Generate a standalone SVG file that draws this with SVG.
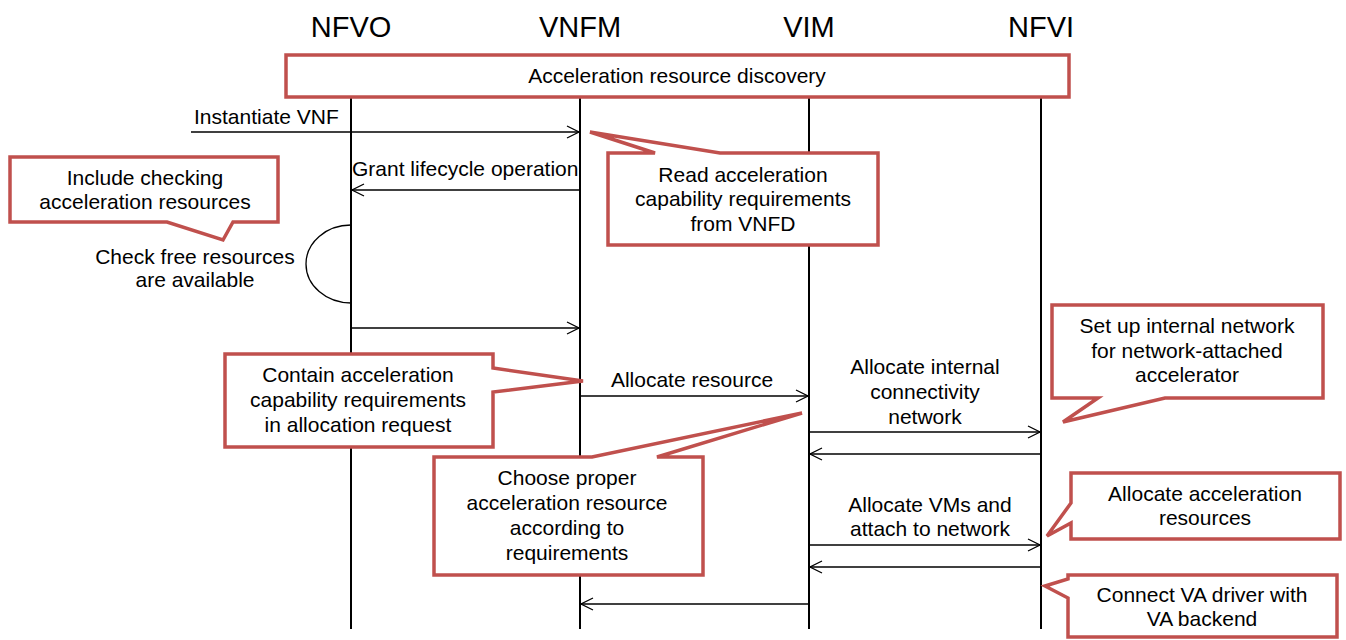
<svg xmlns="http://www.w3.org/2000/svg" width="1346" height="640" viewBox="0 0 1346 640">
<defs>
<style>
text{font-family:"Liberation Sans",Arial,sans-serif;font-size:21px;fill:#000}
.hdr{font-size:29px;text-anchor:middle}
.c{text-anchor:middle}
.life{stroke:#000;stroke-width:2;fill:none}
.msg{stroke:#000;stroke-width:1.3;fill:none;marker-end:url(#arr)}
.call{fill:#fff;stroke:#C0504D;stroke-width:3.5;stroke-linejoin:miter}
</style>
<marker id="arr" viewBox="0 0 14 14" refX="13" refY="7" markerWidth="14" markerHeight="14" markerUnits="userSpaceOnUse" orient="auto">
<path d="M1,1 L13,7 L1,13" fill="none" stroke="#000" stroke-width="1.3"/>
</marker>
</defs>
<rect width="1346" height="640" fill="#fff"/>

<g id="lifelines">
<g id="nfvo"><text class="hdr" x="351" y="37">NFVO</text><line class="life" x1="351" y1="97" x2="351" y2="629"/></g>
<g id="vnfm"><text class="hdr" x="580" y="37">VNFM</text><line class="life" x1="580" y1="97" x2="580" y2="629"/></g>
<g id="vim"><text class="hdr" x="809" y="37">VIM</text><line class="life" x1="809" y1="97" x2="809" y2="629"/></g>
<g id="nfvi"><text class="hdr" x="1041" y="37">NFVI</text><line class="life" x1="1041" y1="97" x2="1041" y2="629"/></g>
</g>

<g id="discovery">
<rect class="call" x="286" y="55" width="783" height="42"/>
<text class="c" x="677" y="83">Acceleration resource discovery</text>
</g>

<g id="connectors">
<line class="msg" x1="191" y1="132" x2="579" y2="132"/>
<text x="194" y="124">Instantiate VNF</text>
<line class="msg" x1="580" y1="190" x2="352" y2="190"/>
<text x="352" y="176">Grant lifecycle operation</text>
<path d="M351,225 A45,39 0 0 0 351,303" fill="none" stroke="#000" stroke-width="1.3"/>
<line class="msg" x1="351" y1="328" x2="579" y2="328"/>
<line class="msg" x1="580" y1="396" x2="808" y2="396"/>
<text class="c" x="692" y="387">Allocate resource</text>
<line class="msg" x1="809" y1="432" x2="1040" y2="432"/>
<line class="msg" x1="1041" y1="454" x2="810" y2="454"/>
<line class="msg" x1="809" y1="545" x2="1040" y2="545"/>
<line class="msg" x1="1041" y1="567" x2="810" y2="567"/>
<line class="msg" x1="809" y1="604" x2="581" y2="604"/>
<text class="c" x="925" y="374">Allocate internal</text>
<text class="c" x="925" y="399">connectivity</text>
<text class="c" x="925" y="424">network</text>
<text class="c" x="930" y="512">Allocate VMs and</text>
<text class="c" x="930" y="536">attach to network</text>
</g>

<g id="check-free">
<text class="c" x="195" y="264">Check free resources</text>
<text class="c" x="195" y="287">are available</text>
</g>

<g id="note-include">
<path class="call" d="M10,157 H278 V222 H233 L223,240 L167,222 H10 Z"/>
<text class="c" x="145" y="185">Include checking</text>
<text class="c" x="145" y="209">acceleration resources</text>
</g>

<g id="note-read">
<path class="call" d="M608,153 H655 L590,132 L720,153 H878 V245 H608 Z"/>
<text class="c" x="743" y="182">Read acceleration</text>
<text class="c" x="743" y="206">capability requirements</text>
<text class="c" x="743" y="231">from VNFD</text>
</g>

<g id="note-contain">
<path class="call" d="M225,354 H493 V368 L583,381 L493,392 V447 H225 Z"/>
<text class="c" x="358" y="382">Contain acceleration</text>
<text class="c" x="358" y="407">capability requirements</text>
<text class="c" x="358" y="432">in allocation request</text>
</g>

<g id="note-choose">
<path class="call" d="M434,457 H592 L802,413 L657,457 H703 V575 H434 Z"/>
<text class="c" x="567" y="485">Choose proper</text>
<text class="c" x="567" y="510">acceleration resource</text>
<text class="c" x="567" y="535">according to</text>
<text class="c" x="567" y="560">requirements</text>
</g>

<g id="note-setup">
<path class="call" d="M1052,305 H1323 V398 H1165 L1063,422 L1098,398 H1052 Z"/>
<text class="c" x="1187" y="333">Set up internal network</text>
<text class="c" x="1187" y="358">for network-attached</text>
<text class="c" x="1187" y="382">accelerator</text>
</g>

<g id="note-allocate">
<path class="call" d="M1071,473 H1340 V539 H1071 V523 L1047,536 L1071,503 Z"/>
<text class="c" x="1205" y="501">Allocate acceleration</text>
<text class="c" x="1205" y="525">resources</text>
</g>

<g id="note-connect">
<path class="call" d="M1068,575 H1337 V637 H1068 V598 L1045,586 L1068,579 Z"/>
<text class="c" x="1202" y="602">Connect VA driver with</text>
<text class="c" x="1202" y="626">VA backend</text>
</g>
</svg>
